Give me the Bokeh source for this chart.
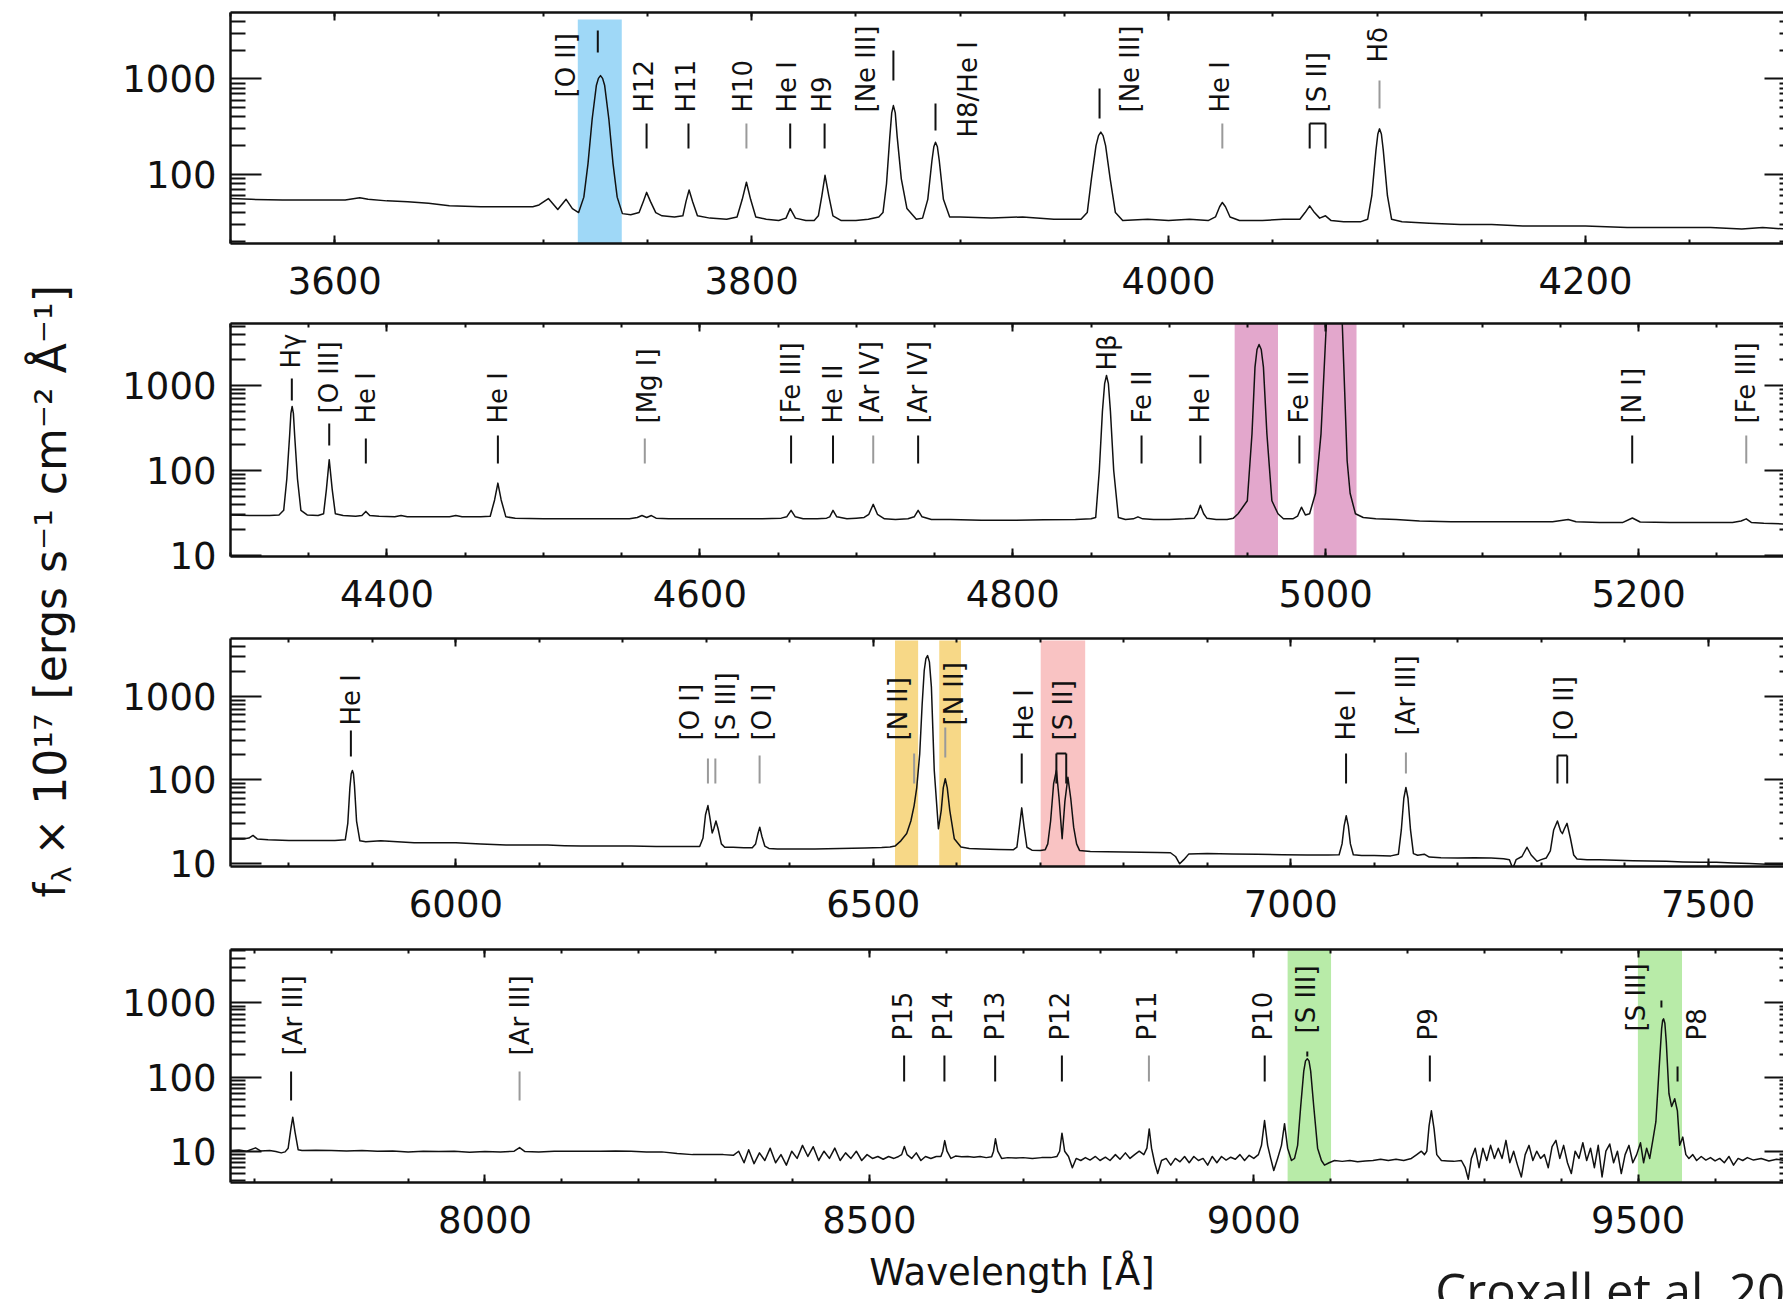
import math
from bokeh.plotting import figure
from bokeh.layouts import row, column
from bokeh.models import (Range1d, FixedTicker, LinearAxis, LogAxis,
                          ColumnDataSource, LinearScale, PrintfTickFormatter)
from bokeh.embed import file_html
from bokeh.resources import INLINE
from bokeh.core.properties import value

FONT = "DejaVu Sans"
INK = "#111111"
GREY = "#9a9a9a"

# ---------------------------------------------------------------------------
# Traced spectrum, (wavelength [A], flux [1e-17 erg s-1 cm-2 A-1]) per panel
# ---------------------------------------------------------------------------
spec_blue = [
    (3550, 56), (3560, 55), (3575, 54), (3590, 54), (3605, 54), (3612, 57), (3616, 55),
    (3625, 53), (3635, 52), (3645, 50), (3655, 47), (3670, 46), (3685, 46), (3695, 46),
    (3698, 48), (3702.5, 56), (3707, 43), (3711, 55), (3714, 44), (3717, 40), (3719.5, 58),
    (3721.5, 130), (3723.5, 380), (3725.5, 850), (3726.5, 1010), (3727.5, 1080),
    (3728.5, 1010), (3729.5, 850), (3731.5, 380),
    (3733.5, 130), (3735.5, 58), (3738, 39), (3742, 38), (3746, 40), (3748, 52), (3749.6, 65),
    (3751.5, 52), (3754, 40), (3757, 37), (3763, 36), (3767, 37), (3768.5, 52), (3770, 69),
    (3771.7, 52), (3774, 37), (3780, 35), (3788, 34), (3793, 36), (3795.5, 55), (3797.5, 83),
    (3799.5, 55), (3802, 36), (3807, 34), (3813, 33), (3816.5, 35), (3818.5, 44), (3821, 35),
    (3826, 33), (3830, 33), (3832, 37), (3833.7, 60), (3835.2, 98), (3837, 60), (3839, 37),
    (3843, 33), (3850, 33), (3856, 34), (3861, 36), (3863, 40), (3864.7, 80), (3866.3, 250),
    (3867.2, 440), (3868, 525), (3868.9, 440), (3869.8, 250), (3871.8, 90), (3874.5, 44),
    (3879, 34), (3882, 35),
    (3884.5, 55), (3886.5, 140), (3887.4, 195), (3888.2, 217), (3889.1, 195), (3890, 140),
    (3892, 55), (3895, 36),
    (3900, 36), (3915, 35), (3930, 36), (3945, 34), (3958, 34), (3961, 40), (3963, 90),
    (3965.2, 200), (3966.4, 255), (3967.5, 277), (3968.6, 255), (3969.8, 200), (3972, 90),
    (3974.5, 40), (3978, 33),
    (3990, 34), (4000, 33), (4010, 34), (4019, 33), (4022.5, 36), (4024.5, 46), (4025.8, 51),
    (4027.3, 46), (4029.5, 36), (4034, 33), (4045, 33), (4055, 34), (4063, 34), (4065.5, 40),
    (4067.7, 47), (4070, 40), (4072.5, 35), (4075.3, 37), (4078, 33), (4084, 32), (4092, 32),
    (4095.5, 34), (4097.5, 60), (4099.5, 180), (4100.4, 265), (4101.2, 300), (4102.1, 265),
    (4103, 180), (4105, 60),
    (4107, 34), (4112, 32), (4125, 31), (4140, 30), (4155, 30), (4170, 29), (4185, 29),
    (4200, 29), (4220, 28), (4240, 28), (4260, 28), (4275, 27), (4285, 28), (4295, 27),
]

spec_green = [
    (4300, 30), (4312, 29.5), (4325, 29.5), (4331, 30), (4334, 34), (4336, 80), (4337.8, 260),
    (4338.6, 470), (4339.4, 566), (4340.2, 470), (4341, 260), (4342.8, 80), (4345, 34),
    (4349, 30), (4356, 29.5),
    (4359.5, 31), (4361.3, 60), (4363.1, 134), (4365, 60), (4367, 31), (4372, 29.5),
    (4380, 29), (4384, 29.5), (4386.5, 33), (4389, 29.5), (4395, 29), (4405, 28.5),
    (4409, 29.5), (4413, 28.5), (4425, 28.5), (4440, 28.5), (4444, 29.5), (4448, 28.5),
    (4460, 28.5), (4466, 29), (4468.8, 45), (4470.9, 71), (4473, 45), (4476, 28.5),
    (4482, 27.5), (4500, 27), (4520, 27), (4540, 27), (4555, 27), (4560, 28), (4563, 29.5),
    (4566, 28), (4569, 29.5), (4572, 27.5), (4580, 27), (4600, 27), (4620, 27), (4640, 27),
    (4652, 27.5), (4655.5, 28.5), (4658.3, 34), (4661, 28.5), (4666, 27), (4675, 27),
    (4681, 27.5), (4683, 28.5), (4685.1, 34), (4687.5, 28.5), (4694, 27), (4700, 27.5),
    (4705, 28), (4708, 30.5), (4710.8, 40), (4713.5, 30.5), (4718, 27), (4725, 26.5),
    (4733, 27), (4737, 28.5), (4739.5, 34), (4742, 28.5), (4748, 26.5), (4760, 26.5),
    (4780, 26), (4800, 26), (4820, 26.3), (4840, 26.5), (4850, 27), (4853, 28),
    (4855.3, 100), (4857.3, 500), (4858.7, 1050), (4859.9, 1310), (4861.1, 1050),
    (4862.4, 500), (4864.5, 100),
    (4867.5, 28), (4872, 26.5), (4877, 27), (4880, 28.5), (4883, 27), (4890, 26.5),
    (4900, 26.5), (4910, 27), (4916, 27.5), (4918, 31), (4919.9, 39), (4922, 31),
    (4924, 27.5), (4930, 26.5), (4937, 26.5), (4941, 27.5), (4944, 31), (4949.9, 44),
    (4952.9, 272), (4954.8, 1645), (4956.1, 2650), (4957.4, 3030), (4958.8, 2650),
    (4960.2, 1645), (4962.4, 272),
    (4965.6, 44), (4969.5, 31), (4973, 27), (4979, 27), (4982, 29), (4984.5, 37),
    (4987, 30), (4989.7, 31), (4993.5, 54), (4997, 270), (5000.4, 5300), (5005.5, 12000),
    (5010.6, 5300), (5013.7, 130), (5015.6, 54), (5019, 31), (5024, 28), (5032, 27),
    (5045, 26.5), (5060, 25.5), (5080, 25), (5100, 25), (5120, 25), (5145, 25),
    (5155, 26.5), (5160, 25), (5175, 24.5), (5190, 24.5), (5196, 27.6), (5201, 24.8),
    (5220, 24.5), (5240, 24.5), (5260, 24.5), (5265.5, 25.5), (5268.8, 27), (5272, 24.5),
    (5280, 24), (5293, 23.5),
]

spec_red = [
    (5730, 19.5), (5745, 19.5), (5752, 20), (5757, 21.5), (5762, 19.5), (5775, 19),
    (5800, 18.7), (5830, 18.7), (5855, 18.7), (5867.5, 19), (5870.5, 30), (5873, 80),
    (5874.6, 118), (5876, 129), (5877.3, 118), (5878.5, 85), (5881, 32), (5885, 18.5),
    (5892, 18), (5910, 18.5),
    (5930, 18), (5950, 17.5), (5975, 17.5), (6000, 17.5), (6030, 17), (6060, 16.5),
    (6090, 16.5), (6110, 16.5), (6130, 16.2), (6150, 16), (6180, 16), (6210, 16),
    (6240, 15.8), (6270, 15.8), (6292, 15.8), (6296, 20), (6299, 38), (6301.9, 49),
    (6304.5, 34), (6307, 23), (6309, 26), (6311.5, 32), (6314, 26), (6318, 17),
    (6322, 15.5), (6332, 15.5), (6345, 15.3), (6355, 15.3), (6359, 17), (6361.5, 22),
    (6364, 27), (6366.5, 21), (6370, 16), (6375, 15), (6385, 14.8), (6400, 14.8),
    (6430, 14.8), (6460, 15), (6490, 15.2), (6510, 15.4), (6520, 15.6), (6526, 16),
    (6533, 18.5), (6540, 22.6), (6545, 32), (6548.9, 49), (6552, 80), (6555.6, 205),
    (6558.5, 800), (6561, 2050), (6563, 2850), (6565, 3100), (6567.2, 2600), (6569.6, 1294),
    (6573, 130), (6578, 25.8),
    (6581.4, 43), (6583.8, 80), (6586.2, 103), (6588.6, 80), (6591.6, 43), (6597, 19.6),
    (6605, 15.6), (6615, 15), (6630, 14.8), (6650, 14.6), (6668, 14.5), (6672, 15.5),
    (6675, 27), (6677.8, 46), (6680.6, 27), (6684, 15.5), (6690, 14.3), (6700, 14.2),
    (6706, 14.5), (6709, 17), (6712.4, 32), (6716, 90), (6719.3, 130), (6722.5, 60),
    (6726.2, 19.6), (6729.5, 55), (6733.1, 107), (6736.5, 60), (6740, 27), (6743.5, 17),
    (6747, 14.2), (6760, 13.8), (6780, 13.7), (6800, 13.6), (6820, 13.5), (6840, 13.4),
    (6856, 13.3), (6862, 12), (6867, 9.8), (6872, 11), (6878, 12.9), (6900, 13),
    (6930, 12.9), (6960, 12.8), (6990, 12.6), (7020, 12.5), (7045, 12.5), (7058, 12.6),
    (7061.5, 17), (7064, 28), (7066.5, 37), (7069, 28), (7071.5, 17), (7075, 12.6),
    (7085, 12.3), (7100, 12.3), (7120, 12.2), (7129, 12.8), (7132.5, 25), (7135.5, 60),
    (7138, 81), (7140.5, 60), (7143.5, 25), (7147, 13), (7152, 12.4), (7160, 12.8),
    (7166, 11.8), (7180, 11.6), (7200, 11.5), (7220, 11.6), (7240, 11.5), (7255, 11.3),
    (7262, 11), (7266, 8.6), (7270, 11), (7277, 12), (7283, 15.5), (7288, 12.5),
    (7295, 10.5), (7300, 11), (7306, 11.5), (7311, 14), (7315, 25), (7319.5, 32),
    (7323.5, 24), (7325.5, 22.6), (7328, 26), (7331, 30), (7335, 20), (7339, 12.5),
    (7343, 11.2), (7355, 11), (7370, 11), (7390, 10.8), (7410, 10.7), (7430, 10.6),
    (7450, 10.5), (7470, 10.3), (7490, 10.2), (7510, 10.2), (7530, 10), (7550, 9.9),
    (7570, 9.7), (7590, 9.6),
]

spec_nir = [
    (7669, 10.2), (7680, 10.4), (7690, 10), (7701.6, 11.1), (7708, 10.1), (7720, 10.2),
    (7728, 9.9), (7735, 9.5), (7740, 9.8), (7744, 11), (7747.5, 20), (7750, 28.7),
    (7753, 18), (7757, 10.5), (7762, 10.2), (7780, 10.3), (7800, 10.2), (7820, 10.1),
    (7840, 10.2), (7860, 10), (7880, 10.1), (7900, 9.8), (7920, 10), (7940, 9.9),
    (7960, 10), (7980, 9.7), (8000, 9.9), (8020, 9.8), (8038, 10), (8045, 11.2),
    (8052, 9.9), (8070, 9.8), (8090, 10), (8110, 10), (8130, 10), (8150, 10), (8170, 10.1),
    (8190, 10), (8210, 9.8), (8230, 9.8), (8250, 9.3), (8270, 9), (8290, 9), (8310, 9),
    (8323, 8.8), (8330, 10), (8337, 7), (8343, 10.5), (8350, 6.8), (8357, 9.5), (8364, 7.5),
    (8371, 11), (8378, 7), (8385, 9), (8392, 6.5), (8399, 10), (8406, 8), (8413, 12),
    (8420, 8.5), (8427, 11.5), (8434, 7.5), (8441, 10), (8448, 8), (8455, 11), (8462, 7.5),
    (8469, 9.5), (8476, 8), (8483, 10), (8490, 7.5), (8497, 9), (8504, 8), (8511, 8.5),
    (8518, 7.8), (8525, 8.5), (8532, 8), (8538, 8.5), (8542, 9), (8545.5, 11.6), (8549, 9),
    (8555, 8), (8561, 9.5), (8567, 7.5), (8573, 8.5), (8580, 8), (8587, 8.5), (8593, 8.5),
    (8595.5, 10), (8598, 13.9), (8601, 10), (8606, 8), (8612, 8.6), (8620, 8.4),
    (8628, 8.5), (8636, 8.3), (8644, 8.5), (8652, 8.2), (8659, 8.4), (8661.5, 10),
    (8664, 14.7), (8667, 10), (8672, 8), (8680, 8.2), (8690, 8.1), (8700, 8.2), (8712, 8),
    (8724, 8.2), (8736, 8.2), (8744, 8.5), (8747.5, 10), (8750.5, 17.5), (8754, 10),
    (8759, 8.5), (8764, 6), (8769, 8), (8775, 7.5), (8781, 8.2), (8787, 7.6), (8794, 8.5),
    (8800, 7.5), (8807, 8.3), (8813, 7.5), (8820, 9), (8826, 7.8), (8833, 9.5), (8839, 8),
    (8845, 9), (8851, 10), (8857, 9), (8861, 11), (8864, 20), (8867, 11), (8871, 7),
    (8875, 5), (8880, 7.5), (8886, 8), (8892, 6.5), (8898, 8), (8904, 7.2), (8910, 8.5),
    (8916, 7), (8922, 8.5), (8928, 7.5), (8934, 8), (8940, 6.5), (8946, 8.5), (8952, 7),
    (8958, 8.5), (8964, 7.6), (8970, 8.3), (8976, 7.8), (8982, 9), (8988, 7.5), (8994, 8.8),
    (9000, 8), (9006, 9), (9010, 12), (9014, 25.9), (9018, 12), (9022, 8), (9026, 5.5),
    (9031, 8), (9036, 12), (9040, 23.5), (9044, 11), (9049, 7.5), (9053, 8), (9057, 12),
    (9061, 40), (9065, 120), (9067.3, 165), (9069.6, 176), (9071.8, 165), (9074, 120),
    (9078, 40), (9083, 11),
    (9088, 7.5), (9092, 6.5), (9098, 7), (9105, 7.5), (9115, 7.3), (9125, 7.5), (9135, 7.2),
    (9145, 7.4), (9155, 7.5), (9165, 7.8), (9175, 7.5), (9185, 7.8), (9195, 7.5), (9205, 8),
    (9212, 9), (9218, 10), (9222, 9), (9225, 10), (9228, 22), (9231, 35), (9234.5, 20),
    (9238, 9), (9244, 7.5), (9252, 7.4), (9260, 7.3), (9270, 7.5), (9275, 6), (9279, 4.2),
    (9283, 8), (9288, 11), (9293, 6), (9298, 11), (9303, 7.5), (9308, 12), (9313, 8),
    (9318, 11), (9323, 8), (9328, 14), (9333, 7), (9338, 10), (9343, 6.5), (9348, 4.5),
    (9353, 9), (9358, 12), (9363, 7.5), (9368, 10), (9373, 8), (9378, 9), (9383, 6),
    (9388, 11.5), (9393, 14), (9398, 8), (9403, 12), (9408, 7), (9413, 5), (9418, 10),
    (9423, 8), (9428, 13), (9433, 7.5), (9438, 11), (9443, 6), (9448, 12), (9453, 4.5),
    (9458, 10), (9463, 12.5), (9468, 7), (9473, 10), (9478, 5), (9483, 9), (9488, 12),
    (9493, 7), (9498, 9), (9503, 13), (9507, 7), (9511, 11), (9515, 8), (9519, 14),
    (9523, 25), (9527, 120), (9530.5, 450), (9531.8, 580), (9533, 608), (9534.7, 530),
    (9536.5, 300), (9540, 60),
    (9543.5, 40), (9547.5, 51), (9551, 35), (9554, 12), (9558, 15.5), (9562, 9), (9566, 8),
    (9571, 9), (9576, 7.5), (9582, 8.5), (9588, 7.6), (9594, 8.2), (9600, 7.4), (9606, 8),
    (9612, 7), (9618, 8.5), (9624, 6.5), (9630, 8), (9636, 7.5), (9642, 8.2), (9650, 7.6),
    (9660, 8), (9670, 7.4), (9680, 7.8), (9690, 7.5),
]

# ---------------------------------------------------------------------------
# Line identifications: (label, wavelength [A])
# ---------------------------------------------------------------------------
ids_blue = [("[O II]", 3726.2), ("H12", 3749.6), ("H11", 3769.7), ("H10", 3797.5),
            ("He I", 3818.5), ("H9", 3835.0), ("[Ne III]", 3868.0), ("H8/He I", 3888.2),
            ("[Ne III]", 3966.9), ("He I", 4025.8), ("[S II]", 4071.5), ("Hδ", 4101.2)]
ids_green = [("Hγ", 4339.2), ("[O III]", 4363.1), ("He I", 4386.5), ("He I", 4470.9),
             ("[Mg I]", 4564.8), ("[Fe III]", 4658.3), ("He II", 4685.1), ("[Ar IV]", 4710.8),
             ("[Ar IV]", 4739.5), ("Hβ", 4859.9), ("Fe II", 4882.3), ("He I", 4919.9),
             ("Fe II", 4983.2), ("[N I]", 5195.9), ("[Fe III]", 5268.8)]
ids_red = [("He I", 5874.2), ("[O I]", 6301.9), ("[S III]", 6310.8), ("[O I]", 6363.8),
           ("[N II]", 6548.9), ("[N II]", 6586.2), ("He I", 6677.8), ("[S II]", 6725.2),
           ("He I", 7066.3), ("[Ar III]", 7138.0), ("[O II]", 7325.4)]
ids_nir = [("[Ar III]", 7747.8), ("[Ar III]", 8045.0), ("P15", 8545.2), ("P14", 8597.6),
           ("P13", 8663.6), ("P12", 8750.4), ("P11", 8863.6), ("P10", 9014.2),
           ("[S III]", 9069.6), ("P9", 9229.0), ("[S III]", 9530.2), ("P8", 9551.2)]

# Marker tick wavelengths per panel
tick_wl_blue = [3726.2, 3749.6, 3769.7, 3797.5, 3818.5, 3835.0, 3868.0, 3888.2, 3966.9,
                4025.8, 4067.7, 4075.3, 4101.2]
tick_wl_green = [4339.2, 4363.1, 4386.5, 4470.9, 4564.8, 4658.3, 4685.1, 4710.8, 4739.5,
                 4882.3, 4919.9, 4983.2, 5195.9, 5268.8]
tick_wl_red = [5874.2, 6301.9, 6310.8, 6363.8, 6548.9, 6586.2, 6677.8, 6719.3, 6731.1,
               7066.3, 7138.0, 7319.5, 7331.2]
tick_wl_nir = [7747.8, 8045.0, 8545.2, 8597.6, 8663.6, 8750.4, 8863.6, 9014.2, 9069.6,
               9229.0, 9530.2, 9551.2]

# Doublets joined at the top of their markers
pairs_blue = [(4067.7, 4075.3)]
pairs_red = [(6719.3, 6731.1), (7319.5, 7331.2)]

# Highlighted lines: (start, end) wavelength
shade_blue = [(3716.6, 3737.7)]
shade_green = [(4941.8, 4969.5), (4992.3, 5019.7)]
shade_red = [(6526.0, 6553.7), (6579.0, 6605.0), (6700.5, 6753.8)]
shade_nir = [(9044.0, 9100.5), (9499.6, 9557.0)]

# ---------------------------------------------------------------------------
# Layout / styling (pixels measured from the top of each plot frame)
# ---------------------------------------------------------------------------
label_dx = {
    "blue": [-32, -3, -2, -3, -3, -3, -27, 33, 30, -2, -1, -2],
    "green": [-1, 0, 0, 0, 2, 0, 0, -3, 0, 0, 0, 0, 0, 0, 0],
    "red": [0, -18, 11, 2, -16, 9, 2, 2, 0, 0, 2],
    "nir": [2, 0, -1, -1, 0, -2, -2, -2, -1, -2, -25, 19],
}
label_y = {
    "blue": [85, 100, 100, 100, 100, 100, 100, 125, 100, 100, 100, 50],
    "green": [45, 90, 100, 100, 100, 100, 100, 100, 100, 47, 100, 100, 100, 100, 100],
    "red": [87, 102, 102, 102, 102, 87, 102, 102, 102, 97, 102],
    "nir": [106, 106, 91, 91, 91, 91, 91, 91, 84, 91, 82, 91],
}
tick_span = {
    "blue": [(18, 40), (111, 136), (111, 136), (111, 136), (111, 136), (111, 136), (38, 68),
             (91, 118), (76, 106), (111, 136), (111, 136), (111, 136), (68, 96)],
    "green": [(55, 77), (100, 122), (115, 140), (112, 140), (115, 140), (112, 140),
              (112, 140), (112, 140), (112, 140), (112, 140), (112, 140), (112, 140),
              (112, 140), (112, 140)],
    "red": [(92, 118), (120, 145), (120, 145), (117, 145), (115, 145), (89, 119),
            (115, 145), (115, 145), (115, 145), (115, 145), (114, 135), (117, 145),
            (117, 145)],
    "nir": [(122, 151), (122, 151), (106, 132), (106, 132), (106, 132), (106, 132),
            (106, 132), (106, 132), (102, 107), (106, 132), (51, 58), (117, 132)],
}
tick_grey = {
    "blue": [3797.5, 4025.8, 4101.2],
    "green": [4564.8, 4710.8, 5268.8],
    "red": [6301.9, 6310.8, 6363.8, 6548.9, 6586.2, 7138.0],
    "nir": [8045.0, 8863.6],
}
pair_top = {"blue": [111], "red": [115, 117]}

panels = [
    dict(key="blue", spec=spec_blue, ids=ids_blue, ticks=tick_wl_blue, pairs=pairs_blue,
         shades=shade_blue, shade_color="#9fd8f7", shade_top=7,
         xr=(3550, 4295.0), yr=(19.0, 4933), major=[3600, 3800, 4000, 4200], step=50,
         height=314, top=12, bottom=71),
    dict(key="green", spec=spec_green, ids=ids_green, ticks=tick_wl_green, pairs=[],
         shades=shade_green, shade_color="#e3a7cc", shade_top=0,
         xr=(4300, 5292.6), yr=(9.73, 5361), major=[4400, 4600, 4800, 5000, 5200], step=50,
         height=314, top=9, bottom=72),
    dict(key="red", spec=spec_red, ids=ids_red, ticks=tick_wl_red, pairs=pairs_red,
         shades=shade_red, shade_color=["#f7d887", "#f7d887", "#f9c3c3"], shade_top=2,
         xr=(5730, 7590.3), yr=(9.1, 4966), major=[6000, 6500, 7000, 7500], step=100,
         height=312, top=10, bottom=74),
    dict(key="nir", spec=spec_nir, ids=ids_nir, ticks=tick_wl_nir, pairs=[],
         shades=shade_nir, shade_color="#b8eba8", shade_top=0,
         xr=(7669, 9689), yr=(3.79, 5225), major=[8000, 8500, 9000, 9500], step=100,
         height=310, top=9, bottom=68),
]

LABEL_W = 110
PANEL_W = 1783 - LABEL_W
LEFT = 120
FOOT_H = 49

y_major = [10, 100, 1000]
y_minor = [m * 10 ** e for e in range(0, 4) for m in range(2, 10)]


def style_axis(ax, tick_in, minor_in, line=True):
    ax.axis_line_width = 2.5
    ax.axis_line_color = INK if line else None
    ax.major_tick_in = tick_in
    ax.major_tick_out = 0
    ax.minor_tick_in = minor_in
    ax.minor_tick_out = 0
    ax.major_tick_line_width = 2
    ax.minor_tick_line_width = 2
    ax.major_tick_line_color = INK
    ax.minor_tick_line_color = INK


def quiet_labels(ax):
    # frame-only axes: keep the tick marks, leave the numbers undrawn
    ax.major_label_text_font_size = "1px"
    ax.major_label_text_color = None
    ax.major_label_standoff = 0


def make_panel(cfg):
    fh = cfg["height"] - cfg["top"] - cfg["bottom"]
    p = figure(width=PANEL_W, height=cfg["height"], x_range=Range1d(*cfg["xr"]),
               y_range=Range1d(*cfg["yr"]), y_axis_type="log",
               output_backend="svg", toolbar_location=None,
               min_border_left=LEFT, min_border_right=0,
               min_border_top=cfg["top"], min_border_bottom=cfg["bottom"])
    p.extra_y_ranges = {"px": Range1d(fh, 0)}
    p.extra_y_scales = {"px": LinearScale()}
    p.outline_line_color = None
    p.grid.visible = False
    p.background_fill_color = "white"
    p.border_fill_color = "white"

    xs = list(range(int(cfg["xr"][0]) // cfg["step"] * cfg["step"], int(cfg["xr"][1]) + 1, cfg["step"]))
    xt = FixedTicker(ticks=cfg["major"], minor_ticks=xs)
    yt = FixedTicker(ticks=y_major, minor_ticks=y_minor)

    # bottom axis with wavelength labels
    bx = p.xaxis[0]
    bx.ticker = xt
    style_axis(bx, 8, 4)
    bx.major_label_text_font = FONT
    bx.major_label_text_font_size = "37px"
    bx.major_label_text_color = INK
    bx.major_label_standoff = 23

    # left flux axis
    ly = p.yaxis[0]
    ly.ticker = yt
    ly.formatter = PrintfTickFormatter(format="%d")
    style_axis(ly, 31, 15)
    ly.major_label_text_font = FONT
    ly.major_label_text_font_size = "37px"
    ly.major_label_text_color = INK
    ly.major_label_standoff = 14

    # top and right frame ticks
    tx = LinearAxis(ticker=xt)
    style_axis(tx, 8, 4)
    quiet_labels(tx)
    p.add_layout(tx, "above")
    ry = LogAxis(ticker=yt)
    style_axis(ry, 19, 4, line=False)
    quiet_labels(ry)
    p.add_layout(ry, "right")

    # highlighted lines
    sc = cfg["shade_color"]
    colors = sc if isinstance(sc, list) else [sc] * len(cfg["shades"])
    p.quad(left=[s[0] for s in cfg["shades"]], right=[s[1] for s in cfg["shades"]],
           top=[cfg["shade_top"]] * len(cfg["shades"]), bottom=[fh + 4] * len(cfg["shades"]),
           fill_color=colors, line_color=None, y_range_name="px")

    # spectrum
    wl = [s[0] for s in cfg["spec"]]
    fx = [s[1] for s in cfg["spec"]]
    p.line(wl, fx, line_color=INK, line_width=1.5, line_join="round")

    # identification markers
    key = cfg["key"]
    spans = tick_span[key]
    greys = tick_grey.get(key, [])
    tsrc = ColumnDataSource(dict(
        x=cfg["ticks"], y0=[s[0] for s in spans], y1=[s[1] for s in spans],
        c=[GREY if w in greys else INK for w in cfg["ticks"]]))
    p.segment(x0="x", y0="y0", x1="x", y1="y1", line_color="c", line_width=2,
              source=tsrc, y_range_name="px")
    if cfg["pairs"]:
        tops = pair_top[key]
        p.segment(x0=[a for a, b in cfg["pairs"]], x1=[b for a, b in cfg["pairs"]],
                  y0=tops, y1=tops, line_color=INK, line_width=2, y_range_name="px")

    lsrc = ColumnDataSource(dict(
        x=[w for t, w in cfg["ids"]], y=label_y[key], t=[t for t, w in cfg["ids"]],
        dx=label_dx[key]))
    p.text(x="x", y="y", text="t", x_offset="dx", source=lsrc, angle=math.pi / 2,
           text_align="left", text_baseline="middle", text_font=value(FONT),
           text_font_size=value("26px"), text_color=INK, y_range_name="px")
    return p


plots = [make_panel(c) for c in panels]

# strip under the last panel: axis title and credit, in page pixels
# (its frame shares the left/right edges of the panel frames above)
foot = figure(width=PANEL_W, height=FOOT_H, x_range=Range1d(230, 1782),
              y_range=Range1d(1299, 1299 - FOOT_H), x_axis_type=None, y_axis_type=None,
              output_backend="svg", toolbar_location=None, min_border=0, title=None)
foot.outline_line_color = None
foot.grid.visible = False
foot.text(x=[1011], y=[1272], text=["Wavelength [Å]"], text_align="center",
          text_baseline="middle", text_font=value(FONT), text_font_size=value("37px"),
          text_color=INK)
foot.text(x=[1434], y=[1289], text=["Croxall et al. 2016"], text_align="left",
          text_baseline="middle", text_font=value("Open Sans"), text_font_size=value("49px"),
          text_color="#1a1a1a")

# shared flux axis title
lab = figure(width=LABEL_W, height=1299, x_range=Range1d(0, LABEL_W), y_range=Range1d(1299, 0),
             x_axis_type=None, y_axis_type=None, output_backend="svg", toolbar_location=None,
             min_border=0, title=None)
lab.outline_line_color = None
lab.grid.visible = False
lab.text(x=[50], y=[897], text=["f"], angle=math.pi / 2, text_align="left",
         text_baseline="middle", text_font=value(FONT), text_font_size=value("42px"),
         text_color=INK)
lab.text(x=[61], y=[882], text=["λ"], angle=math.pi / 2, text_align="left",
         text_baseline="middle", text_font=value(FONT), text_font_size=value("27px"),
         text_color=INK)
lab.text(x=[50], y=[855], text=["× 10¹⁷ [ergs s⁻¹ cm⁻² Å⁻¹]"], angle=math.pi / 2,
         text_align="left", text_baseline="middle", text_font=value(FONT),
         text_font_size=value("44px"), text_color=INK)

page = row(lab, column(*plots, foot, spacing=0), spacing=0)
open("out.html", "w").write(file_html(page, INLINE))
